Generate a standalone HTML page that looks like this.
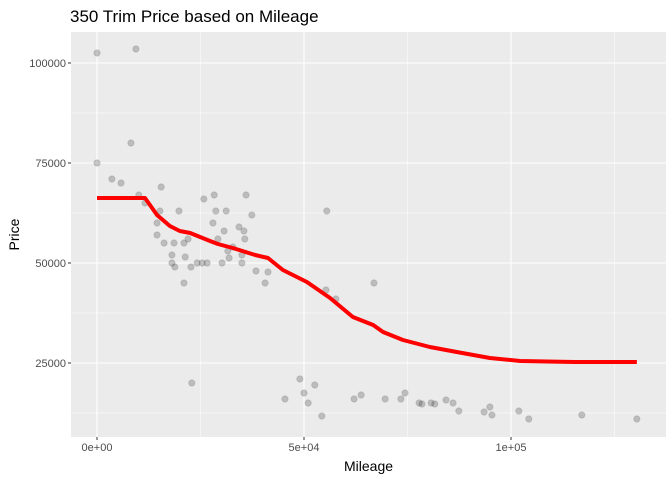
<!DOCTYPE html>
<html><head><meta charset="utf-8"><style>body{margin:0;background:#fff}svg{display:block;font-family:"Liberation Sans",sans-serif}</style></head>
<body>
<svg id="c" width="672" height="480"></svg>
<script>
const pointMileage=[0,9.4,8.2,0,3.6,5.8,15.5,10.1,11.6,36.0,28.3,25.8,28.7,31.2,19.8,15.2,37.4,14.5,28.0,30.7,34.3,35.5,35.7,29.2,32.8,31.6,35.0,31.9,30.2,38.4,41.3,40.6,14.5,16.2,18.6,21.0,22.0,18.1,21.3,18.8,22.7,18.1,24.2,25.4,26.6,35.0,21.0,55.3,57.7,55.5,66.9,45.4,49.0,50.0,51.0,52.6,54.3,62.1,63.8,69.6,73.4,74.4,77.8,78.5,80.7,81.6,84.3,86.0,87.4,93.5,94.9,95.4,101.9,104.3,117.1,130.4,22.9].map(v=>v*1000);
const pointPrice=[102500,103500,80000,75000,71000,70000,69000,67000,65000,67000,67000,66000,63000,63000,63000,63000,62000,60000,60000,58000,59000,58000,56000,56000,54000,53000,52000,51250,50000,48000,47750,45000,57000,55000,55000,55000,56000,52000,51500,49000,49000,50000,50000,50000,50000,50000,45000,43250,41000,63000,45000,16000,21000,17500,15000,19500,11750,16000,17000,16000,16000,17500,15000,14750,15000,14750,15750,15000,13000,12750,14000,12000,13000,11000,12000,11000,20000];
const smoothMileage=[0,11.6,14.5,17.6,20.0,22.5,24.9,27.3,29.2,32.8,38.2,41.3,44.9,50.7,56.3,61.8,66.7,69.1,73.9,80.4,86.9,94.9,102.2,115.4,130.4].map(v=>v*1000);
const smoothPrice=[66250,66250,62000,59250,58000,57500,56500,55500,54750,53750,52000,51250,48250,45250,41250,36500,34500,32750,30750,29000,27750,26250,25500,25250,25250];
const xTicks=[0,50000,100000];
const xTickLabels=["0e+00","5e+04","1e+05"];
const yTicks=[25000,50000,75000,100000];
const yTickLabels=["25000","50000","75000","100000"];

const svg=document.getElementById('c');const NS='http://www.w3.org/2000/svg';
const L=71,R=666,T=32,B=437;
const sx=v=>97+v*207/50000;
const sy=v=>463-v*0.004;
function mk(t,a,p){const e=document.createElementNS(NS,t);for(const k in a)e.setAttribute(k,a[k]);(p||svg).appendChild(e);return e;}
const panel=mk('rect',{x:L,y:T,width:R-L,height:B-T,fill:'#ebebeb'});


const grid=mk('g',{});


for(let v=12500;v<=112500;v+=25000){const y=sy(v);if(y>T&&y<B)mk('line',{x1:L,x2:R,y1:y,y2:y,stroke:'#fff','stroke-width':0.5},grid);}
for(let v=-25000;v<=150000;v+=50000){const x=sx(v);if(x>L&&x<R)mk('line',{x1:x,x2:x,y1:T,y2:B,stroke:'#fff','stroke-width':0.5},grid);}
yTicks.forEach((v,i)=>{const y=sy(v);mk('line',{x1:L,x2:R,y1:y,y2:y,stroke:'#fff','stroke-width':1.1},grid);mk('line',{x1:L-3,x2:L,y1:y,y2:y,stroke:'#333'});
const t=mk('text',{x:L-5,y:y+4,'text-anchor':'end','font-size':11,fill:'#4d4d4d'});t.textContent=yTickLabels[i];

});
xTicks.forEach((v,i)=>{const x=sx(v);mk('line',{x1:x,x2:x,y1:T,y2:B,stroke:'#fff','stroke-width':1.1},grid);mk('line',{x1:x,x2:x,y1:B,y2:B+3,stroke:'#333'});
const t=mk('text',{x:x,y:B+14,'text-anchor':'middle','font-size':11,fill:'#4d4d4d'});t.textContent=xTickLabels[i];

});
const pts=mk('g',{});


pointMileage.forEach((m,i)=>{const c=mk('circle',{cx:sx(m),cy:sy(pointPrice[i]),r:3.2,fill:'#000','fill-opacity':0.2,stroke:'#000','stroke-opacity':0.1},pts);

});
const line=mk('polyline',{points:smoothMileage.map((m,i)=>sx(m)+','+sy(smoothPrice[i])).join(' '),fill:'none',stroke:'#ff0000','stroke-width':4,'stroke-linejoin':'round'});


const ti=mk('text',{x:70,y:22,'font-size':17,fill:'#000'});ti.textContent='350 Trim Price based on Mileage';


const xt=mk('text',{x:(L+R)/2,y:471,'text-anchor':'middle','font-size':14,fill:'#000'});xt.textContent='Mileage';


const yt=mk('text',{x:0,y:0,'text-anchor':'middle','font-size':14,fill:'#000',transform:`translate(19,${(T+B)/2}) rotate(-90)`});yt.textContent='Price';


</script>
</body></html>
